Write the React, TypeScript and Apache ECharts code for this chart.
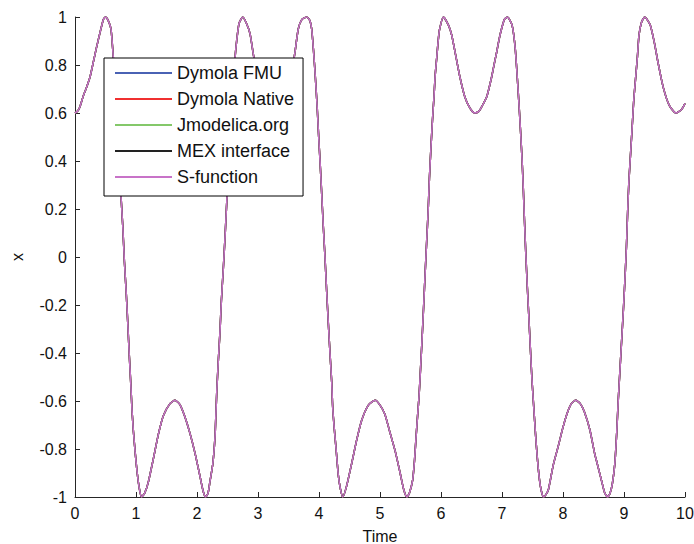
import React, { useEffect, useRef } from "react";
import * as echarts from "echarts";

// Time samples
const timeValues: number[] = [
  0, 0.04, 0.08, 0.137, 0.18, 0.246, 0.29, 0.35, 0.41, 0.465, 0.5, 0.545, 0.59, 0.62, 0.65, 0.68, 0.705, 0.73, 0.755,
  0.785, 0.81, 0.84, 0.866, 0.89, 0.915, 0.935, 0.958, 0.985, 1.02, 1.055, 1.09, 1.14, 1.2, 1.28, 1.37, 1.45, 1.56,
  1.64, 1.72, 1.8, 1.885, 1.97, 2.05, 2.1, 2.14, 2.18, 2.21, 2.26, 2.295, 2.31, 2.325, 2.35, 2.377, 2.4, 2.43, 2.46,
  2.487, 2.51, 2.536, 2.56, 2.585, 2.605, 2.625, 2.65, 2.69, 2.75, 2.81, 2.87, 2.93, 3.01, 3.09, 3.175, 3.25, 3.33,
  3.4, 3.47, 3.53, 3.585, 3.61, 3.66, 3.72, 3.8, 3.85, 3.88, 3.91, 3.94, 3.97, 3.995, 4.02, 4.045, 4.07, 4.098, 4.126,
  4.153, 4.18, 4.208, 4.224, 4.25, 4.28, 4.317, 4.35, 4.39, 4.45, 4.536, 4.62, 4.7, 4.81, 4.92, 5.0, 5.08, 5.16, 5.25,
  5.33, 5.39, 5.44, 5.48, 5.535, 5.565, 5.59, 5.615, 5.64, 5.665, 5.69, 5.715, 5.74, 5.765, 5.79, 5.81, 5.836, 5.86,
  5.885, 5.905, 5.93, 5.95, 5.975, 6.04, 6.12, 6.175, 6.245, 6.31, 6.39, 6.475, 6.55, 6.62, 6.667, 6.75, 6.83, 6.885,
  6.91, 6.955, 6.995, 7.04, 7.09, 7.16, 7.19, 7.22, 7.25, 7.28, 7.305, 7.33, 7.35, 7.368, 7.39, 7.415, 7.44, 7.465,
  7.49, 7.52, 7.55, 7.58, 7.615, 7.645, 7.68, 7.72, 7.76, 7.84, 7.92, 7.995, 8.07, 8.14, 8.21, 8.28, 8.35, 8.44, 8.52,
  8.55, 8.63, 8.68, 8.73, 8.77, 8.81, 8.85, 8.88, 8.907, 8.934, 8.96, 8.99, 9.016, 9.04, 9.06, 9.08, 9.11, 9.136,
  9.16, 9.19, 9.22, 9.246, 9.29, 9.34, 9.43, 9.5, 9.56, 9.64, 9.74, 9.85, 9.945, 10.0,
];

// x values (all five simulations overlap)
const xValues: number[] = [
  0.6, 0.607, 0.625, 0.672, 0.7, 0.75, 0.8, 0.87, 0.935, 0.99, 1.0, 0.985, 0.95, 0.86, 0.75, 0.625, 0.5, 0.385, 0.25,
  0.12, -0.02, -0.15, -0.28, -0.41, -0.53, -0.64, -0.728, -0.81, -0.9, -0.965, -1.0, -0.985, -0.94, -0.846, -0.735,
  -0.66, -0.61, -0.597, -0.615, -0.665, -0.735, -0.82, -0.915, -0.975, -1.0, -0.985, -0.94, -0.86, -0.75, -0.655,
  -0.555, -0.43, -0.31, -0.18, -0.054, 0.085, 0.225, 0.33, 0.46, 0.57, 0.67, 0.76, 0.835, 0.9, 0.974, 1.0, 0.974, 0.93,
  0.835, 0.75, 0.668, 0.62, 0.6, 0.61, 0.64, 0.69, 0.75, 0.82, 0.86, 0.95, 0.99, 1.0, 0.985, 0.95, 0.86, 0.75, 0.625,
  0.5, 0.385, 0.26, 0.13, 0.0, -0.145, -0.276, -0.4, -0.52, -0.624, -0.714, -0.8, -0.91, -0.965, -1.0, -0.957, -0.86,
  -0.76, -0.68, -0.617, -0.597, -0.617, -0.655, -0.728, -0.81, -0.9, -0.97, -1.0, -0.985, -0.93, -0.85, -0.755,
  -0.665, -0.58, -0.464, -0.34, -0.207, -0.068, 0.064, 0.196, 0.328, 0.46, 0.57, 0.668, 0.758, 0.83, 0.89, 0.946,
  1.0, 0.967, 0.925, 0.835, 0.75, 0.668, 0.62, 0.6, 0.607, 0.626, 0.668, 0.75, 0.82, 0.85, 0.91, 0.953, 0.99, 1.0,
  0.97, 0.93, 0.86, 0.75, 0.63, 0.52, 0.4, 0.28, 0.154, 0.015, -0.124, -0.249, -0.38, -0.505, -0.624, -0.74, -0.84,
  -0.93, -0.975, -1.0, -0.99, -0.97, -0.867, -0.79, -0.714, -0.65, -0.61, -0.597, -0.61, -0.645, -0.72, -0.82, -0.85,
  -0.93, -0.98, -1.0, -0.985, -0.943, -0.86, -0.735, -0.59, -0.47, -0.353, -0.22, -0.09, 0.043, 0.19, 0.314, 0.44,
  0.55, 0.654, 0.745, 0.835, 0.925, 0.98, 1.0, 0.967, 0.89, 0.807, 0.71, 0.633, 0.6, 0.615, 0.64,
];

const seriesNames: string[] = ["Dymola FMU", "Dymola Native", "Jmodelica.org", "MEX interface", "S-function"];
const seriesColors: string[] = ["#4a62b4", "#f03030", "#84c86a", "#222222", "#c873c8"];

const xTicks = { min: 0, max: 10, interval: 1 };
const yTicks = { min: -1, max: 1, interval: 0.2 };

export default function App() {
  const ref = useRef<HTMLDivElement>(null);

  useEffect(() => {
    if (!ref.current) return;
    const chart = echarts.init(ref.current, null, { renderer: "svg" });
    const data = timeValues.map((t, i) => [t, xValues[i]]);
    const font = "Liberation Sans, Arial, sans-serif";
    const axisColor = "#262626";

    chart.setOption({
      animation: false,
      backgroundColor: "#ffffff",
      grid: { left: 75, right: 9, top: 17, bottom: 47, containLabel: false, outerBoundsMode: "none" },
      legend: {
        orient: "vertical",
        left: 104,
        top: 58,
        z: 20,
        padding: [6, 9, 10, 11],
        itemWidth: 57,
        itemHeight: 2,
        itemGap: 8,
        icon: "rect",
        borderColor: "#000",
        borderWidth: 1,
        backgroundColor: "#fff",
        textStyle: { fontFamily: font, fontSize: 18, color: "#111", lineHeight: 18 },
        data: seriesNames,
      },
      xAxis: {
        type: "value",
        min: xTicks.min,
        max: xTicks.max,
        interval: xTicks.interval,
        name: "Time",
        nameLocation: "middle",
        nameGap: 31,
        nameTextStyle: { fontFamily: font, fontSize: 16, color: "#111" },
        axisLine: { show: true, onZero: false, lineStyle: { color: axisColor, width: 1 } },
        axisTick: { show: true, inside: true, length: 5, lineStyle: { color: axisColor } },
        axisLabel: { fontFamily: font, fontSize: 16, color: "#111", margin: 8 },
        splitLine: { show: false },
      },
      yAxis: {
        type: "value",
        min: yTicks.min,
        max: yTicks.max,
        interval: yTicks.interval,
        name: "x",
        nameLocation: "middle",
        nameGap: 50,
        nameTextStyle: { fontFamily: font, fontSize: 16, color: "#111" },
        axisLine: { show: true, onZero: false, lineStyle: { color: axisColor, width: 1 } },
        axisTick: { show: true, inside: true, length: 5, lineStyle: { color: axisColor } },
        axisLabel: { fontFamily: font, fontSize: 16, color: "#111", margin: 8 },
        splitLine: { show: false },
      },
      series: seriesNames.map((name, i) => ({
        name,
        type: "line",
        data,
        showSymbol: false,
        symbol: "none",
        smooth: 0.2,
        color: seriesColors[i],
        lineStyle: { color: seriesColors[i], width: 1.5 },
        z: 2,
      })),
    });

    return () => chart.dispose();
  }, []);

  return (
    <div
      ref={ref}
      style={{ position: "fixed", left: 0, top: 0, width: 694, height: 544, background: "#fff" }}
    />
  );
}
